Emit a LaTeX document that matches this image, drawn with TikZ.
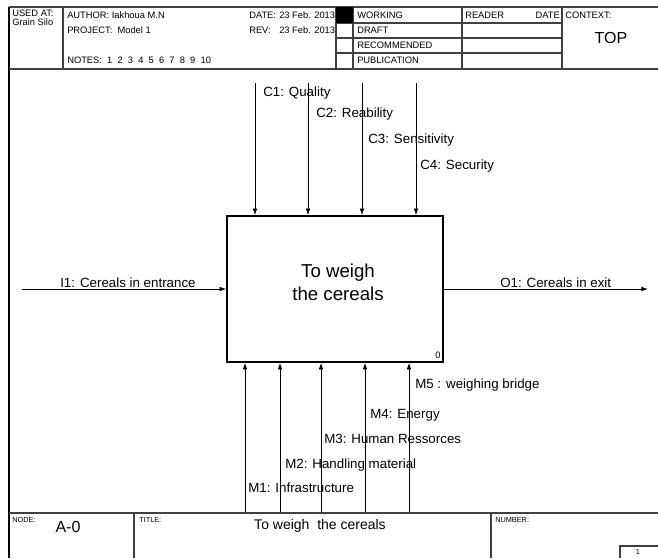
\documentclass[tikz,border=0pt]{standalone}
\usepackage{fontspec}
\setmainfont{Liberation Sans}
\usetikzlibrary{arrows.meta}
\definecolor{gridgray}{HTML}{404040}

\tikzset{
  frameline/.style={line width=0.8pt, color=gridgray},
  headtext/.style={font=\fontsize{7}{8}\selectfont, anchor=west, inner sep=0pt},
  foottext/.style={font=\fontsize{5.5}{6}\selectfont, anchor=west, inner sep=0pt},
  bigtext/.style={font=\fontsize{12}{14}\selectfont, inner sep=0pt},
  flowlabel/.style={font=\fontsize{10}{12}\selectfont, anchor=west, inner sep=0pt},
  flowarrow/.style={line width=0.6pt, -{Latex[length=5pt,width=3.5pt]}},
  actbox/.style={draw, line width=1.2pt, minimum width=162pt, minimum height=109.5pt, inner sep=0pt}
}

\begin{document}
\begin{tikzpicture}[x=0.75pt, y=-0.75pt]
\useasboundingbox (0,0) rectangle (658,558);

% Frame
    \draw[frameline, color=black] (9,7) -- (9,558);
    \draw[frameline] (9,7) -- (658,7);
    \draw[frameline] (9,69) -- (658,69);

% Header
    % Columns
    \draw[frameline] (63,7) -- (63,69);
    \draw[frameline] (336,7) -- (336,69);
    \draw[frameline] (353,7) -- (353,69);
    \draw[frameline] (462,7) -- (462,69);
    \draw[frameline] (562,7) -- (562,69);
    % Status rows
    \foreach \y in {23,38,53} {
        \draw[frameline] (336,\y) -- (562,\y);
    }
    \fill (336,7) rectangle (353,23);

    % Header texts
    \node[headtext] (usedat) at (12,13) {USED AT:};
    \node[headtext] (usedplace) at (12,22) {Grain Silo};
    \node[headtext] (author) at (67,15) {AUTHOR: Iakhoua M.N};
    \node[headtext] (project) at (67,30) {PROJECT:\ \ Model 1};
    \node[headtext] (notes) at (67,60) {NOTES:\ \ 1\ \ 2\ \ 3\ \ 4\ \ 5\ \ 6\ \ 7\ \ 8\ \ 9\ \ 10};
    \node[headtext] (datekey) at (249,15) {DATE:};
    \node[headtext] (dateval) at (279,15) {23 Feb. 2013};
    \node[headtext] (revkey) at (249,30) {REV:};
    \node[headtext] (revval) at (279,30) {23 Feb. 2013};
    \node[headtext] (working) at (357,15) {WORKING};
    \node[headtext] (draft) at (357,30) {DRAFT};
    \node[headtext] (recommended) at (357,45) {RECOMMENDED};
    \node[headtext] (publication) at (357,60) {PUBLICATION};
    \node[headtext] (reader) at (465,15) {READER};
    \node[headtext, anchor=east] (readerdate) at (560,15) {DATE};
    \node[headtext] (context) at (565,15) {CONTEXT:};
    \node[bigtext] (top) at (611,38) {TOP};

% Activity box
    \node[actbox] (act) at (335,289) {};
    \node[font=\fontsize{14}{17}\selectfont, align=center, inner sep=0pt] (acttext) at (338,282) {To weigh\\the cereals};
    \node[headtext, anchor=center] (actnum) at (438,355) {0};

% Controls
    \foreach \n/\x/\lx/\ly/\txt in {1/255/263/93/{C1: Quality}, 2/308/316/114/{C2: Reability},
                                    3/362/368/140/{C3: Sensitivity}, 4/416/420/166/{C4: Security}} {
        \coordinate (ctl\n) at (\x,83);
        \draw[flowarrow] (ctl\n) -- (ctl\n |- act.north);
        \node[flowlabel] (ctllabel\n) at (\lx,\ly) {\txt};
    }

% Mechanisms
    \foreach \n/\x/\lx/\ly/\txt in {1/245/248/488/{M1: Infrastructure}, 2/280/285/465/{M2: Handling material},
                                    3/321/324/439/{M3: Human Ressorces}, 4/365/370/415/{M4: Energy},
                                    5/409/415/385/{M5 : weighing bridge}} {
        \coordinate (mech\n) at (\x,513);
        \draw[flowarrow] (mech\n) -- (mech\n |- act.south);
        \node[flowlabel] (mechlabel\n) at (\lx,\ly) {\txt};
    }

% Input and output
    \coordinate (inp) at (22,289);
    \coordinate (outp) at (648,289);
    \draw[flowarrow] (inp) -- (act.west);
    \draw[flowarrow] (act.east) -- (outp);
    \node[flowlabel] (inplabel) at (60,283) {I1: Cereals in entrance};
    \node[flowlabel] (outplabel) at (500,283) {O1: Cereals in exit};

% Footer
    \draw[frameline] (9,513) -- (658,513);
    \draw[frameline] (134,513) -- (134,558);
    \draw[frameline] (491,513) -- (491,558);
    \draw[frameline] (620,558) -- (620,546) -- (658,546);

    \node[foottext] (nodekey) at (12,520) {NODE:};
    \node[bigtext] (nodeval) at (68,527) {A-0};
    \node[foottext] (titlekey) at (139,520) {TITLE:};
    \node[bigtext, font=\fontsize{10.5}{12}\selectfont] (titleval) at (320,526) {To weigh\ \ the cereals};
    \node[foottext] (numberkey) at (495,520) {NUMBER:};
    \node[foottext, anchor=center] (pagenum) at (638,552) {1};

\end{tikzpicture}
\end{document}
